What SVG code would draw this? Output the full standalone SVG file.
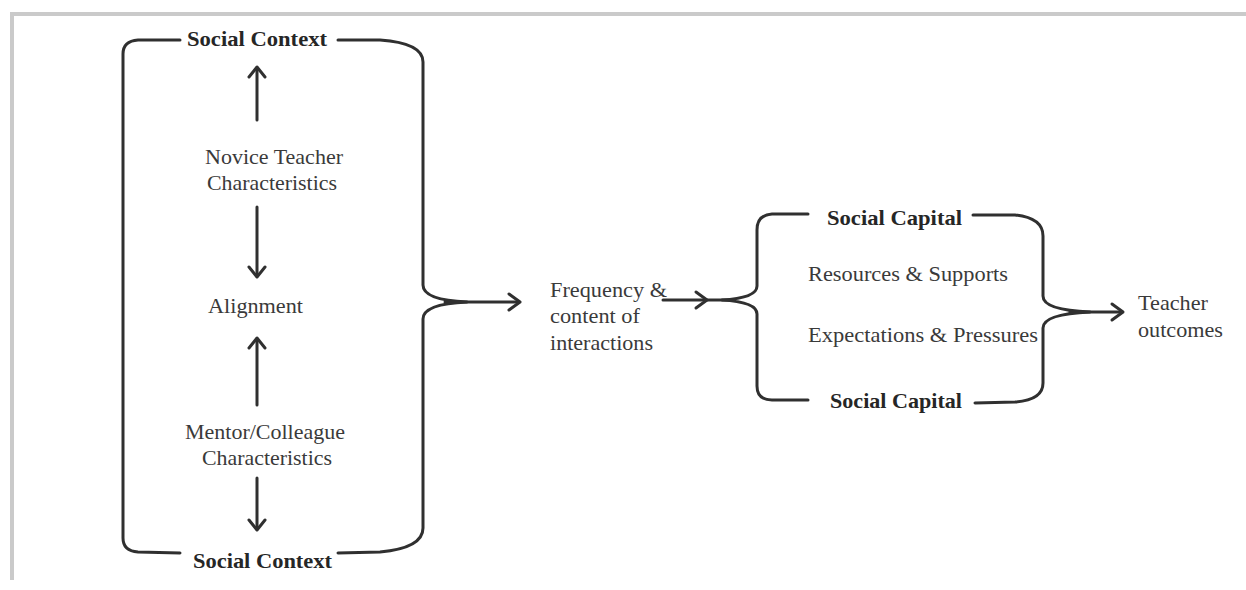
<svg xmlns="http://www.w3.org/2000/svg" width="1246" height="590" viewBox="0 0 1246 590">
  <style>
    .t { font-family: "Liberation Serif", "Times New Roman", serif; font-size: 22px; fill: #3a3a3a; }
    .b { font-family: "Liberation Serif", "Times New Roman", serif; font-size: 22px; font-weight: bold; fill: #262626; }
    .ln { fill: none; stroke: #303030; stroke-width: 3; stroke-linecap: round; stroke-linejoin: round; }
    .frame { fill: none; stroke: #cacaca; stroke-width: 4; }
  </style>
  <defs>
    <path id="chev-up" d="M -8 10 L 0 0 L 8 10" class="ln"/>
    <path id="chev-down" d="M -8 -10 L 0 0 L 8 -10" class="ln"/>
    <path id="chev-right" d="M -11 -8 L 0 0 L -11 8" class="ln"/>
  </defs>

  <rect width="1246" height="590" fill="#ffffff"/>
  <!-- page frame -->
  <path class="frame" d="M 12 580 L 12 14 L 1246 14"/>

  <!-- left brace: social context -->
  <g id="social-context-brace">
    <path class="ln" d="M 180 40 L 138 40 Q 123 41 123 54 L 123 538 Q 123 551 138 552 L 180 553"/>
    <path class="ln" d="M 338 40 L 380 40 Q 423 43 423 62 L 423 285 Q 423 300 467 302 Q 423 304 423 319 L 423 528 Q 423 548 380 552 L 338 553"/>
    <text class="b" x="187" y="46" textLength="140" lengthAdjust="spacingAndGlyphs">Social Context</text>
    <text class="b" x="193" y="568" textLength="139" lengthAdjust="spacingAndGlyphs">Social Context</text>
  </g>

  <g id="novice-teacher">
    <text class="t" x="205" y="164" textLength="138" lengthAdjust="spacingAndGlyphs">Novice Teacher</text>
    <text class="t" x="207" y="190" textLength="130" lengthAdjust="spacingAndGlyphs">Characteristics</text>
  </g>

  <g id="alignment">
    <text class="t" x="208" y="313" textLength="95" lengthAdjust="spacingAndGlyphs">Alignment</text>
  </g>

  <g id="mentor-colleague">
    <text class="t" x="185" y="439" textLength="160" lengthAdjust="spacingAndGlyphs">Mentor/Colleague</text>
    <text class="t" x="202" y="465" textLength="130" lengthAdjust="spacingAndGlyphs">Characteristics</text>
  </g>

  <g id="interactions">
    <text class="t" x="550" y="297" textLength="117" lengthAdjust="spacingAndGlyphs">Frequency &amp;</text>
    <text class="t" x="550" y="323" textLength="90" lengthAdjust="spacingAndGlyphs">content of</text>
    <text class="t" x="550" y="350" textLength="103" lengthAdjust="spacingAndGlyphs">interactions</text>
  </g>

  <!-- right brace: social capital -->
  <g id="social-capital-brace">
    <path class="ln" d="M 808 214 L 772 214 Q 757 215 757 230 L 757 286 Q 757 298 722 300 Q 757 302 757 314 L 757 386 Q 757 400 772 400 L 808 400"/>
    <path class="ln" d="M 973 215 L 1015 215 Q 1043 218 1043 236 L 1043 296 Q 1043 310 1090 312 Q 1043 314 1043 328 L 1043 383 Q 1043 400 1015 402 L 975 403"/>
    <text class="b" x="827" y="225" textLength="135" lengthAdjust="spacingAndGlyphs">Social Capital</text>
    <text class="b" x="830" y="408" textLength="132" lengthAdjust="spacingAndGlyphs">Social Capital</text>
    <text class="t" x="808" y="281" textLength="200" lengthAdjust="spacingAndGlyphs">Resources &amp; Supports</text>
    <text class="t" x="808" y="342" textLength="230" lengthAdjust="spacingAndGlyphs">Expectations &amp; Pressures</text>
  </g>

  <g id="teacher-outcomes">
    <text class="t" x="1138" y="310" textLength="70" lengthAdjust="spacingAndGlyphs">Teacher</text>
    <text class="t" x="1138" y="337" textLength="85" lengthAdjust="spacingAndGlyphs">outcomes</text>
  </g>

  <g id="connectors">
    <!-- novice teacher -> social context -->
    <path class="ln" d="M 257 120 L 257 68"/>
    <use href="#chev-up" x="257" y="67"/>
    <!-- novice teacher -> alignment -->
    <path class="ln" d="M 257 207 L 257 276"/>
    <use href="#chev-down" x="257" y="277"/>
    <!-- mentor -> alignment -->
    <path class="ln" d="M 257 405 L 257 339"/>
    <use href="#chev-up" x="257" y="338"/>
    <!-- mentor -> social context -->
    <path class="ln" d="M 257 478 L 257 529"/>
    <use href="#chev-down" x="257" y="530"/>
    <!-- social context -> interactions -->
    <path class="ln" d="M 445 302 L 519 302"/>
    <use href="#chev-right" x="520" y="302"/>
    <!-- interactions -> social capital -->
    <path class="ln" d="M 663 300 L 735 300"/>
    <use href="#chev-right" x="707" y="300"/>
    <!-- social capital -> teacher outcomes -->
    <path class="ln" d="M 1070 312 L 1122 312"/>
    <use href="#chev-right" x="1123" y="312"/>
  </g>
</svg>
